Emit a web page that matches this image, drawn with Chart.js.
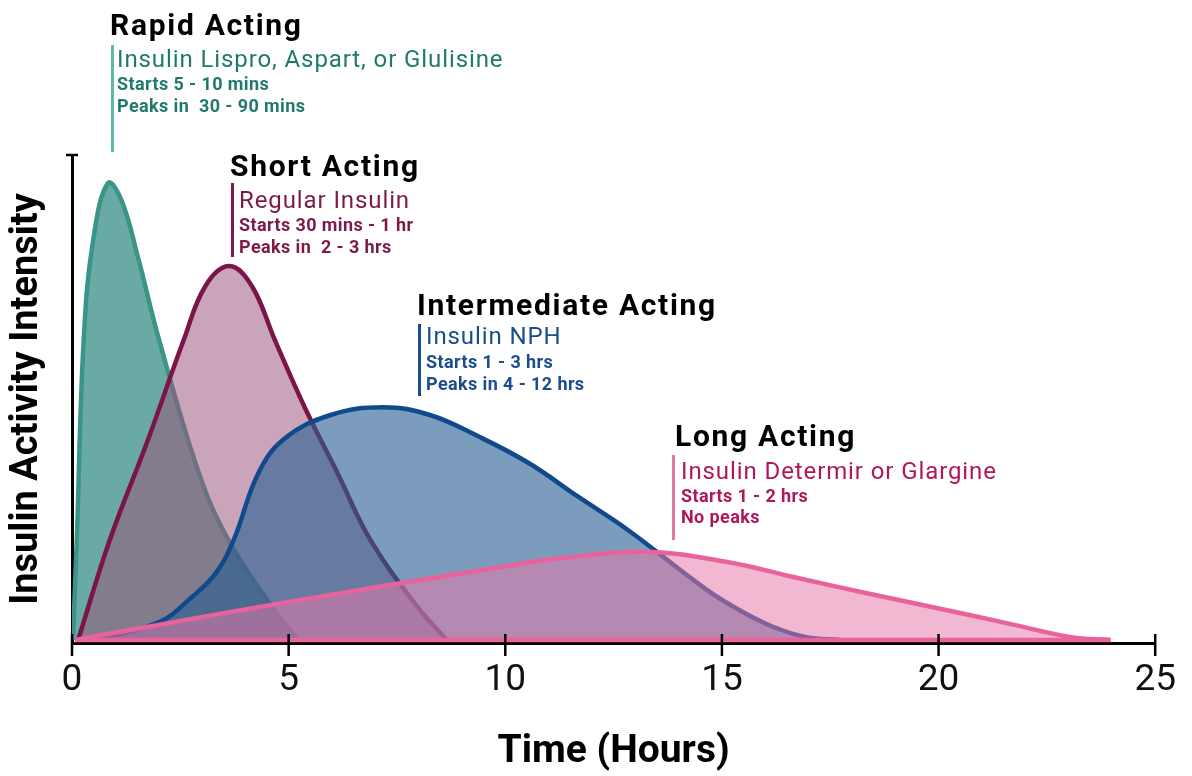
<!DOCTYPE html>
<html>
<head>
<meta charset="utf-8">
<script src="https://cdn.jsdelivr.net/npm/chart.js@4.4.1/dist/chart.umd.min.js"></script>
<style>
  html, body { margin: 0; padding: 0; background: #fff; }
  #wrap { position: relative; width: 1192px; height: 776px; overflow: hidden; font-family: Roboto, "Noto Sans", sans-serif; }
  #chart { position: absolute; left: 0; top: 0; }
  .lbl { position: absolute; white-space: pre; line-height: 1; margin: 0; }
  .bar { position: absolute; width: 3px; }
</style>
</head>
<body>
<div id="wrap">
  <canvas id="chart" width="1192" height="776"></canvas>
</div>
<script>
// ---- data (hours, activity intensity) ----
const rapidHours        = [0.02, 0.11, 0.27, 0.49, 0.83, 1.14, 1.52, 2.01, 2.93, 3.61, 4.60, 5.22];
const rapidActivity     = [0, 20.6, 61.9, 82.5, 94.2, 90.7, 79.0, 61.9, 34.4, 20.6, 7.0, 0];

const shortHours        = [0.14, 0.87, 1.75, 2.58, 3.08, 3.63, 4.15, 4.68, 5.37, 6.13, 6.89, 7.96, 8.65];
const shortActivity     = [0, 20.6, 41.2, 61.9, 73.0, 77.1, 73.0, 61.9, 48.0, 34.4, 20.6, 7.0, 0];

const intermediateHours    = [0.5, 2.01, 2.77, 3.32, 3.73, 4.30, 4.90, 5.97, 7.18, 8.26, 9.40, 10.54, 11.69, 12.83, 14.66, 15.44, 16.19, 16.95, 17.73];
const intermediateActivity = [0, 3.7, 8.9, 13.8, 20.6, 34.4, 41.5, 46.4, 48.0, 46.4, 41.9, 36.5, 29.5, 22.7, 10.3, 6.0, 2.7, 0.6, 0];

const longHours         = [0.07, 4.30, 9.79, 11.32, 13.2, 15.12, 16.65, 18.48, 20.01, 21.52, 23.06, 23.97];
const longActivity      = [0, 6.8, 14.9, 16.9, 18.2, 16.1, 13.0, 9.4, 6.5, 3.6, 0.6, 0];

const baselineHours     = [0.07, 23.97];
const baselineActivity  = [0, 0];

const xTickValues = [0, 5, 10, 15, 20, 25];
const xAxisTitle = 'Time (Hours)';
const yAxisTitle = 'Insulin Activity Intensity';

const annotationTitles = ['Rapid Acting', 'Short Acting', 'Intermediate Acting', 'Long Acting'];
const annotationNames  = ['Insulin Lispro, Aspart, or Glulisine', 'Regular Insulin', 'Insulin NPH', 'Insulin Determir or Glargine'];
const annotationStarts = ['Starts 5 - 10 mins', 'Starts 30 mins - 1 hr', 'Starts 1 - 3 hrs', 'Starts 1 - 2 hrs'];
const annotationPeaks  = ['Peaks in  30 - 90 mins', 'Peaks in  2 - 3 hrs', 'Peaks in 4 - 12 hrs', 'No peaks'];

// ---- styles / layout ----
const lineColors = ['#3a9488', '#7b1549', '#104a8c', '#e8639c'];
const fillColors = ['rgba(58,145,136,0.76)', 'rgba(153,82,120,0.52)', 'rgba(42,95,147,0.62)', 'rgba(230,121,168,0.53)'];
const textColors = ['#1f7a6c', '#7b1a4b', '#1b4d8c', '#b0175a'];
const barColors  = ['#5fb9ad', '#7b1a4b', '#1b4d8c', '#e07aa5'];
const annLayout = [
  { tx: 110, tb: 35.5, bx: 111, by0: 45,  by1: 152, sx: 117, sb: [67, 90, 112] },
  { tx: 230, tb: 176,  bx: 231, by0: 183, by1: 257, sx: 239, sb: [208, 231, 253] },
  { tx: 417, tb: 315,  bx: 418, by0: 324, by1: 396, sx: 426, sb: [344, 368, 390] },
  { tx: 675, tb: 446,  bx: 672, by0: 455, by1: 540, sx: 681, sb: [479, 502, 523] }
];
const FONT = 'Roboto, "Noto Sans", sans-serif';

function pts(xs, ys) { return xs.map((x, i) => ({ x: x, y: ys[i] })); }

function curve(label, xs, ys, idx, order) {
  return {
    label: label,
    data: pts(xs, ys),
    borderColor: lineColors[idx],
    backgroundColor: fillColors[idx],
    borderWidth: 4.5,
    fill: 'origin',
    pointRadius: 0,
    tension: 0.4,
    order: order
  };
}

const tickMarks = {
  id: 'tickMarks',
  afterDatasetsDraw(chart) {
    const { ctx, scales: { x, y } } = chart;
    ctx.save();
    ctx.strokeStyle = '#000';
    ctx.lineWidth = 2.5;
    x.ticks.forEach(t => {
      const px = x.getPixelForValue(t.value);
      ctx.beginPath();
      ctx.moveTo(px, y.bottom - 9);
      ctx.lineTo(px, y.bottom + 13);
      ctx.stroke();
    });
    ctx.beginPath();
    ctx.moveTo(x.left - 6, y.top);
    ctx.lineTo(x.left + 6, y.top);
    ctx.stroke();
    ctx.restore();
  }
};

new Chart(document.getElementById('chart'), {
  type: 'line',
  data: {
    datasets: [
      curve('Rapid Acting', rapidHours, rapidActivity, 0, 5),
      curve('Short Acting', shortHours, shortActivity, 1, 4),
      curve('Intermediate Acting', intermediateHours, intermediateActivity, 2, 3),
      curve('Long Acting', longHours, longActivity, 3, 2),
      {
        label: 'Long Acting baseline',
        data: pts(baselineHours, baselineActivity),
        borderColor: lineColors[3],
        borderWidth: 4.5,
        fill: false,
        pointRadius: 0,
        order: 1
      }
    ]
  },
  options: {
    responsive: false,
    devicePixelRatio: 1,
    animation: false,
    layout: { padding: { top: 155, right: 27, left: 0, bottom: 0 } },
    plugins: { legend: { display: false }, tooltip: { enabled: false } },
    scales: {
      x: {
        type: 'linear',
        min: 0, max: 25,
        afterBuildTicks: s => { s.ticks = xTickValues.map(v => ({ value: v })); },
        afterFit: s => { s.height = 133; },
        grid: { display: false, drawTicks: false },
        border: { display: true, color: '#000', width: 3 },
        ticks: { color: '#111', padding: 16, font: { family: FONT, size: 37 }, maxRotation: 0 },
        title: { display: true, text: xAxisTitle, color: '#000', padding: { top: 0, bottom: 0 }, font: { family: FONT, size: 39, weight: 'bold' } }
      },
      y: {
        type: 'linear',
        min: -0.6, max: 100,
        afterFit: s => { s.width = 72; },
        grid: { display: false, drawTicks: false },
        border: { display: true, color: '#000', width: 3 },
        ticks: { display: false },
        title: { display: true, text: yAxisTitle, color: '#000', padding: { top: 5, bottom: 0 }, font: { family: FONT, size: 38, weight: 'bold' } }
      }
    }
  },
  plugins: [tickMarks]
});

// ---- annotations as real text ----
const wrap = document.getElementById('wrap');
function addText(text, x, baseline, size, weight, color, spacing) {
  const d = document.createElement('div');
  d.className = 'lbl';
  d.textContent = text;
  d.style.left = x + 'px';
  d.style.top = (baseline - 0.8415 * size) + 'px';
  d.style.fontSize = size + 'px';
  d.style.fontWeight = weight;
  d.style.letterSpacing = spacing + 'px';
  d.style.color = color;
  d.style.fontFamily = FONT;
  wrap.appendChild(d);
}
annLayout.forEach((L, i) => {
  const b = document.createElement('div');
  b.className = 'bar';
  b.style.left = L.bx + 'px';
  b.style.top = L.by0 + 'px';
  b.style.height = (L.by1 - L.by0) + 'px';
  b.style.background = barColors[i];
  wrap.appendChild(b);
  addText(annotationTitles[i], L.tx, L.tb, 30, 700, '#000', 1.7);
  addText(annotationNames[i], L.sx, L.sb[0], 24, 400, textColors[i], 0.9);
  addText(annotationStarts[i], L.sx, L.sb[1], 18, 700, textColors[i], 0.4);
  addText(annotationPeaks[i], L.sx, L.sb[2], 18, 700, textColors[i], 0.4);
});
</script>
</body>
</html>
